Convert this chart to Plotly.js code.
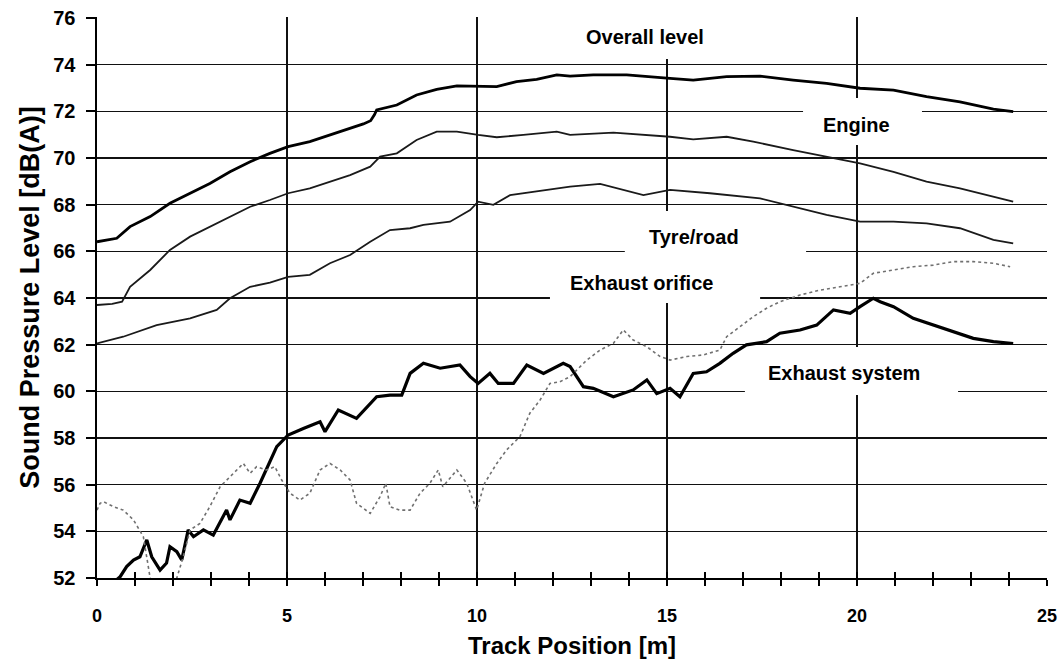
<!DOCTYPE html>
<html>
<head>
<meta charset="utf-8">
<script src="https://cdn.plot.ly/plotly-3.0.1.min.js"></script>
<style>html,body{margin:0;padding:0;background:#fff;}#chart{width:1064px;height:663px;}</style>
</head>
<body>
<div id="chart"></div>
<script>
// ---- Data ----
const overallX = [0,0.52,0.87,1.4,1.92,2.45,2.97,3.5,4.03,4.55,5.03,5.6,6.13,6.66,7.01,7.2,7.3,7.36,7.89,8.41,8.94,9.47,10.03,10.52,11.04,11.57,12.1,12.45,13.06,13.94,15.08,15.69,16.57,17.45,18.32,19.2,20.08,20.96,21.83,22.71,23.59,24.11];
const overallY = [66.41,66.56,67.06,67.49,68.06,68.49,68.91,69.41,69.84,70.2,70.49,70.7,70.99,71.27,71.46,71.6,71.85,72.06,72.27,72.7,72.94,73.09,73.09,73.06,73.27,73.37,73.56,73.51,73.56,73.56,73.41,73.34,73.49,73.51,73.34,73.2,72.99,72.91,72.63,72.41,72.09,71.99];

const engineX = [0,0.4,0.66,0.87,1.4,1.92,2.45,2.97,3.5,4.03,4.55,5.03,5.6,6.13,6.66,7.19,7.45,7.89,8.41,8.94,9.47,10.03,10.52,11.22,12.1,12.45,13.59,15.08,15.69,16.57,17.27,18.32,19.2,20.08,20.96,21.83,22.71,23.59,24.11];
const engineY = [63.7,63.75,63.84,64.48,65.2,66.06,66.63,67.06,67.49,67.91,68.2,68.49,68.7,68.99,69.27,69.63,70.06,70.2,70.77,71.13,71.13,70.99,70.89,70.99,71.13,70.99,71.09,70.91,70.8,70.91,70.7,70.34,70.06,69.77,69.41,68.99,68.7,68.34,68.13];

const tyreX = [0,0.69,1.57,2.45,3.15,3.5,4.03,4.55,5.03,5.6,6.13,6.66,7.19,7.71,8.24,8.59,9.29,9.82,10.03,10.43,10.87,11.57,12.18,12.45,13.24,14.38,15.08,16.13,17.45,18.32,19.2,20.08,20.96,21.83,22.71,23.59,24.11];
const tyreY = [62.05,62.34,62.84,63.13,63.49,63.99,64.48,64.66,64.91,64.99,65.49,65.84,66.41,66.91,66.99,67.13,67.27,67.77,68.13,67.99,68.41,68.56,68.7,68.77,68.89,68.41,68.63,68.49,68.27,67.91,67.56,67.27,67.27,67.2,66.99,66.49,66.34];

const orificeX = [0,0.08,0.17,0.43,0.69,0.96,1.22,1.35,1.45,1.9,2.05,2.1,2.27,2.45,2.71,2.97,3.24,3.5,3.85,4.03,4.2,4.46,4.68,4.86,5.08,5.34,5.6,5.87,6.13,6.4,6.66,6.83,7.19,7.45,7.6,7.71,7.97,8.24,8.5,8.76,8.98,9.1,9.47,9.73,9.99,10.2,10.52,10.78,11.13,11.39,11.66,11.92,12.18,12.45,12.89,13.24,13.59,13.85,14.11,14.47,14.82,15.08,15.52,15.96,16.39,16.57,16.92,17.27,17.62,17.97,18.5,19.03,19.55,20.08,20.43,20.96,21.48,22.01,22.54,23.06,23.59,24.03];
const orificeY = [54.91,55.2,55.27,55.06,54.91,54.49,53.77,52.34,51.5,51.5,51.9,52.0,52.91,54.06,54.34,55.06,55.91,56.34,56.91,56.49,56.77,56.63,56.77,56.2,55.63,55.34,55.63,56.63,56.91,56.63,56.2,55.2,54.77,55.49,56.06,55.06,54.91,54.91,55.63,56.06,56.63,55.91,56.63,56.06,54.91,56.06,56.91,57.49,58.06,59.06,59.63,60.34,60.41,60.63,61.34,61.77,62.06,62.63,62.2,61.91,61.49,61.34,61.49,61.56,61.77,62.34,62.77,63.2,63.56,63.84,64.13,64.34,64.48,64.63,65.06,65.2,65.34,65.41,65.56,65.56,65.49,65.34];

const systemX = [0,0.5,0.61,0.78,0.96,1.13,1.31,1.44,1.66,1.83,1.92,2.1,2.23,2.4,2.54,2.8,3.06,3.41,3.5,3.76,4.03,4.29,4.73,5.03,5.43,5.87,6.0,6.35,6.83,7.1,7.36,7.71,8.02,8.24,8.59,9.03,9.55,9.82,10.03,10.34,10.56,10.96,11.31,11.75,12.27,12.45,12.8,13.06,13.59,14.11,14.47,14.73,15.08,15.34,15.69,16.04,16.39,16.74,17.09,17.62,17.97,18.5,18.94,19.38,19.82,20.08,20.43,20.61,20.96,21.48,22.01,22.54,23.06,23.59,24.11];
const systemY = [51.9,51.9,52.06,52.49,52.77,52.91,53.63,52.91,52.34,52.64,53.34,53.13,52.77,54.06,53.77,54.06,53.84,54.91,54.49,55.34,55.2,56.06,57.63,58.13,58.41,58.7,58.27,59.2,58.84,59.34,59.77,59.84,59.84,60.77,61.2,60.99,61.13,60.63,60.34,60.77,60.34,60.34,61.13,60.77,61.2,61.06,60.2,60.13,59.77,60.06,60.49,59.9,60.13,59.77,60.77,60.84,61.2,61.63,61.99,62.13,62.49,62.63,62.84,63.49,63.34,63.63,63.99,63.84,63.63,63.13,62.84,62.56,62.27,62.13,62.05];

const xTickVals = [0,5,10,15,20,25];
const yTickVals = [52,54,56,58,60,62,64,66,68,70,72,74,76];

const labelTexts = ['Overall level','Engine','Tyre/road','Exhaust orifice','Exhaust system'];
const labelX = [14.42,19.99,15.71,14.33,19.66];
const labelY = [75.19,71.4,66.6,64.64,60.78];

// label boxes [x0,x1,y0,y1]
const boxes = [
  [12.32,17.45,74.24,76.04],
  [18.58,21.71,70.56,72.57],
  [13.89,18.66,65.54,67.73],
  [11.92,17.45,63.79,65.54],
  [17.05,22.66,59.84,61.9]
];

const FONT = 'Liberation Sans, Arial, Helvetica, sans-serif';

const traces = [
  {x: orificeX, y: orificeY, mode:'lines', line:{color:'#707070', width:1.6, dash:'dot'}, xaxis:'x2', yaxis:'y', name:'Exhaust orifice'},
  {x: tyreX, y: tyreY, mode:'lines', line:{color:'#1a1a1a', width:1.8}, name:'Tyre/road'},
  {x: engineX, y: engineY, mode:'lines', line:{color:'#1a1a1a', width:1.8}, name:'Engine'},
  {x: overallX, y: overallY, mode:'lines', line:{color:'#000', width:2.8}, name:'Overall level'},
  {x: systemX, y: systemY, mode:'lines', line:{color:'#000', width:3.2}, name:'Exhaust system'}
];

const layout = {
  width:1064, height:663,
  margin:{l:97, r:17, t:17, b:85},
  paper_bgcolor:'#fff', plot_bgcolor:'#fff',
  showlegend:false,
  font:{family:FONT, color:'#000'},
  xaxis:{
    range:[0,25], tickvals:xTickVals, showgrid:true, gridcolor:'#111', gridwidth:1.4,
    zeroline:false, showline:true, linecolor:'#000', linewidth:2,
    ticks:'outside', ticklen:6, tickwidth:2, tickcolor:'#000',
    minor:{dtick:1, tick0:0, ticks:'outside', ticklen:6, tickwidth:2, tickcolor:'#000', showgrid:false},
    tickfont:{family:FONT, size:18, weight:'bold', color:'#000'},
    ticklabelstandoff:14,
    title:{text:'Track Position [m]', font:{family:FONT, size:24, weight:'bold', color:'#000'}, standoff:13}
  },
  xaxis2:{
    visible:true, overlaying:'x', anchor:'y', side:'bottom', range:[0,25],
    showgrid:false, zeroline:false, showline:true, linecolor:'#000', linewidth:2,
    ticks:'inside', tickmode:'linear', dtick:1, tick0:0, ticklen:6, tickwidth:2, tickcolor:'#000',
    showticklabels:false, layer:'above traces'
  },
  yaxis:{
    range:[52,76.043], tickvals:yTickVals, showgrid:true, gridcolor:'#111', gridwidth:1.5,
    zeroline:false, showline:true, linecolor:'#000', linewidth:2.5,
    ticks:'outside', ticklen:9, tickwidth:2, tickcolor:'#000',
    tickfont:{family:FONT, size:20, weight:'bold', color:'#000'},
    ticklabelstandoff:6,
    title:{text:'Sound Pressure Level [dB(A)]', font:{family:FONT, size:27, weight:'bold', color:'#000'}, standoff:6}
  },
  shapes: boxes.map(b => ({type:'rect', xref:'x', yref:'y', x0:b[0], x1:b[1], y0:b[2], y1:b[3],
    fillcolor:'#fff', line:{width:0}, layer:'between'})),
  annotations: labelTexts.map((t,i) => ({x:labelX[i], y:labelY[i], xref:'x', yref:'y', text:t, showarrow:false,
    font:{family:FONT, size:20, weight:'bold', color:'#000'}}))
};

Plotly.newPlot('chart', traces, layout, {displayModeBar:false, staticPlot:true});
</script>
</body>
</html>
